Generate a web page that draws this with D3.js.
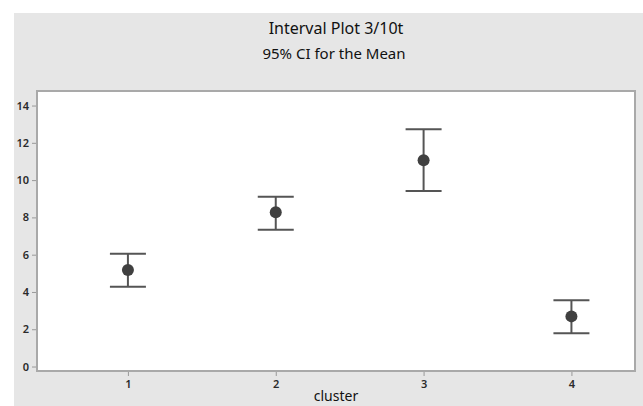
<!DOCTYPE html>
<html>
<head>
<meta charset="utf-8">
<script src="https://cdn.jsdelivr.net/npm/d3@7"></script>
<style>
  body { margin: 0; background: #fff; }
  svg { display: block; }
</style>
</head>
<body>
<svg id="chart" width="643" height="406"></svg>
<script>
// data
const clusters = [1, 2, 3, 4];
const means = [5.18, 8.27, 11.06, 2.69];
const lower = [4.28, 7.34, 9.42, 1.78];
const upper = [6.05, 9.11, 12.73, 3.55];
const yTicks = [0, 2, 4, 6, 8, 10, 12, 14];

const svg = d3.select("#chart");
const font = "'Noto Sans', 'Open Sans', sans-serif";

// outer gray panel
svg.append("rect")
  .attr("x", 14).attr("y", 13)
  .attr("width", 643 - 14).attr("height", 406 - 13)
  .attr("fill", "#e6e6e6");

const plot = { left: 37, top: 91, right: 635, bottom: 371 };

const x = d3.scaleLinear()
  .domain([0.385, 4.43])
  .range([plot.left, plot.right]);

const y = d3.scaleLinear()
  .domain([-0.24, 14.78])
  .range([plot.bottom, plot.top]);

// plot area
svg.append("rect")
  .attr("x", plot.left).attr("y", plot.top)
  .attr("width", plot.right - plot.left).attr("height", plot.bottom - plot.top)
  .attr("fill", "#fff")
  .attr("stroke", "#a9a9a9")
  .attr("stroke-width", 2);

// titles
svg.append("text")
  .attr("x", 336).attr("y", 34)
  .attr("text-anchor", "middle")
  .style("font-family", font).style("font-size", "16px").attr("fill", "#111")
  .text("Interval Plot 3/10t");

svg.append("text")
  .attr("x", 334).attr("y", 59)
  .attr("text-anchor", "middle")
  .style("font-family", font).style("font-size", "15px").attr("fill", "#111")
  .text("95% CI for the Mean");

// y axis
const yAxis = svg.append("g")
  .attr("transform", "translate(" + (plot.left - 1) + ",0)")
  .call(d3.axisLeft(y).tickValues(yTicks).tickSize(4).tickPadding(3));
yAxis.select(".domain").remove();
yAxis.selectAll("line").attr("stroke", "#999");
yAxis.selectAll("text")
  .style("font-family", font).style("font-size", "11px").style("font-weight", 600).attr("fill", "#2a2a2a");

// x axis
const xAxis = svg.append("g")
  .attr("transform", "translate(0," + (plot.bottom + 1) + ")")
  .call(d3.axisBottom(x).tickValues(clusters).tickFormat(d3.format("d")).tickSize(4).tickPadding(4));
xAxis.select(".domain").remove();
xAxis.selectAll("line").attr("stroke", "#999");
xAxis.selectAll("text")
  .style("font-family", font).style("font-size", "11px").style("font-weight", 600).attr("fill", "#2a2a2a");

svg.append("text")
  .attr("x", 336).attr("y", 401)
  .attr("text-anchor", "middle")
  .style("font-family", font).style("font-size", "14px").attr("fill", "#111")
  .text("cluster");

// intervals
const rows = clusters.map((c, i) => ({ c: c, m: means[i], lo: lower[i], hi: upper[i] }));
const capHalf = 18;
const bars = svg.append("g").attr("stroke", "#555").attr("stroke-width", 2);

bars.selectAll(".stem").data(rows).enter().append("line")
  .attr("x1", d => x(d.c)).attr("x2", d => x(d.c))
  .attr("y1", d => y(d.lo)).attr("y2", d => y(d.hi));

bars.selectAll(".capHi").data(rows).enter().append("line")
  .attr("x1", d => x(d.c) - capHalf).attr("x2", d => x(d.c) + capHalf)
  .attr("y1", d => y(d.hi)).attr("y2", d => y(d.hi));

bars.selectAll(".capLo").data(rows).enter().append("line")
  .attr("x1", d => x(d.c) - capHalf).attr("x2", d => x(d.c) + capHalf)
  .attr("y1", d => y(d.lo)).attr("y2", d => y(d.lo));

svg.selectAll(".mean").data(rows).enter().append("circle")
  .attr("cx", d => x(d.c)).attr("cy", d => y(d.m))
  .attr("r", 6)
  .attr("fill", "#404040");
</script>
</body>
</html>
